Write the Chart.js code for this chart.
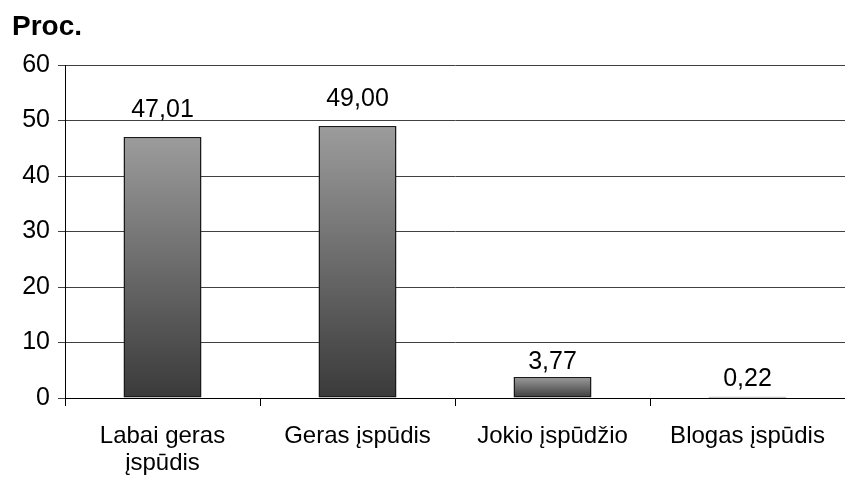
<!DOCTYPE html>
<html>
<head>
<meta charset="utf-8">
<script src="https://cdn.jsdelivr.net/npm/chart.js@4/dist/chart.umd.min.js"></script>
<style>
  html, body { margin: 0; padding: 0; background: #fff; }
  #wrap { width: 845px; height: 481px; }
</style>
</head>
<body>
<div id="wrap"><canvas id="c" width="845" height="481"></canvas></div>
<script>
// Survey answers (percent)
const categories = [["Labai geras", "įspūdis"], "Geras įspūdis", "Jokio įspūdžio", "Blogas įspūdis"];
const percentValues = [47.01, 49.00, 3.77, 0.22];
const yTickValues = [0, 10, 20, 30, 40, 50, 60];
const titleText = "Proc.";

const FONT = "'Liberation Sans', Arial, sans-serif";

// Comma as decimal separator
function fmt(v) { return v.toFixed(2).replace('.', ','); }

// Vertical gray gradient spanning each bar from its top to the baseline
function barGradient(context) {
  const chart = context.chart;
  const { ctx, chartArea, scales } = chart;
  if (!chartArea || context.type !== 'data') return '#777';
  const v = context.parsed ? context.parsed.y : context.raw;
  const yTop = scales.y.getPixelForValue(v);
  const yBase = scales.y.getPixelForValue(0);
  const g = ctx.createLinearGradient(0, yTop, 0, yBase);
  g.addColorStop(0, '#9c9c9c');
  g.addColorStop(1, '#3a3a3a');
  return g;
}

const titlePlugin = {
  id: 'cornerTitle',
  afterDraw(chart) {
    const ctx = chart.ctx;
    ctx.save();
    ctx.font = "bold 28px " + FONT;
    ctx.fillStyle = '#000';
    ctx.textAlign = 'left';
    ctx.textBaseline = 'alphabetic';
    ctx.fillText(titleText, 12, 35);
    ctx.restore();
  }
};

const valueLabels = {
  id: 'valueLabels',
  afterDatasetsDraw(chart, args, opts) {
    const ctx = chart.ctx;
    const meta = chart.getDatasetMeta(0);
    const ds = chart.data.datasets[0];
    ctx.save();
    ctx.font = "25px " + FONT;
    ctx.fillStyle = '#000';
    ctx.textAlign = 'center';
    ctx.textBaseline = 'alphabetic';
    meta.data.forEach((bar, i) => {
      const gap = opts.gaps[i];
      ctx.fillText(fmt(ds.data[i]), bar.x, bar.y - gap);
    });
    ctx.restore();
  }
};

new Chart(document.getElementById('c'), {
  type: 'bar',
  data: {
    labels: categories,
    datasets: [{
      data: percentValues,
      backgroundColor: barGradient,
      borderColor: '#1a1a1a',
      borderWidth: 1.5,
      borderSkipped: false,
      barPercentage: 0.4,
      categoryPercentage: 1.0
    }]
  },
  options: {
    responsive: false,
    animation: false,
    devicePixelRatio: 1,
    layout: { padding: { top: 65, left: 0, right: -4, bottom: 0 } },
    plugins: {
      legend: { display: false },
      tooltip: { enabled: false },
      title: { display: false },
      valueLabels: { gaps: [20, 20, 8, 11] }
    },
    scales: {
      x: {
        offset: true,
        grid: {
          display: true,
          drawOnChartArea: false,
          drawTicks: true,
          tickLength: 8,
          offset: true,
          color: '#000'
        },
        border: { display: true, color: '#000', width: 1 },
        ticks: {
          color: '#000',
          font: { family: FONT, size: 24, lineHeight: '27px' },
          padding: 17,
          maxRotation: 0,
          autoSkip: false
        },
        afterFit(scale) { scale.height = 83; }
      },
      y: {
        min: 0,
        max: 60,
        afterBuildTicks(scale) { scale.ticks = yTickValues.map(v => ({ value: v })); },
        grid: {
          color: '#404040',
          lineWidth: 1,
          tickLength: 7,
          drawTicks: true
        },
        border: { display: true, color: '#000', width: 1 },
        ticks: {
          color: '#000',
          font: { family: FONT, size: 25 },
          padding: 8
        },
        afterFit(scale) { scale.width = 65; }
      }
    }
  },
  plugins: [titlePlugin, valueLabels]
});
</script>
</body>
</html>
